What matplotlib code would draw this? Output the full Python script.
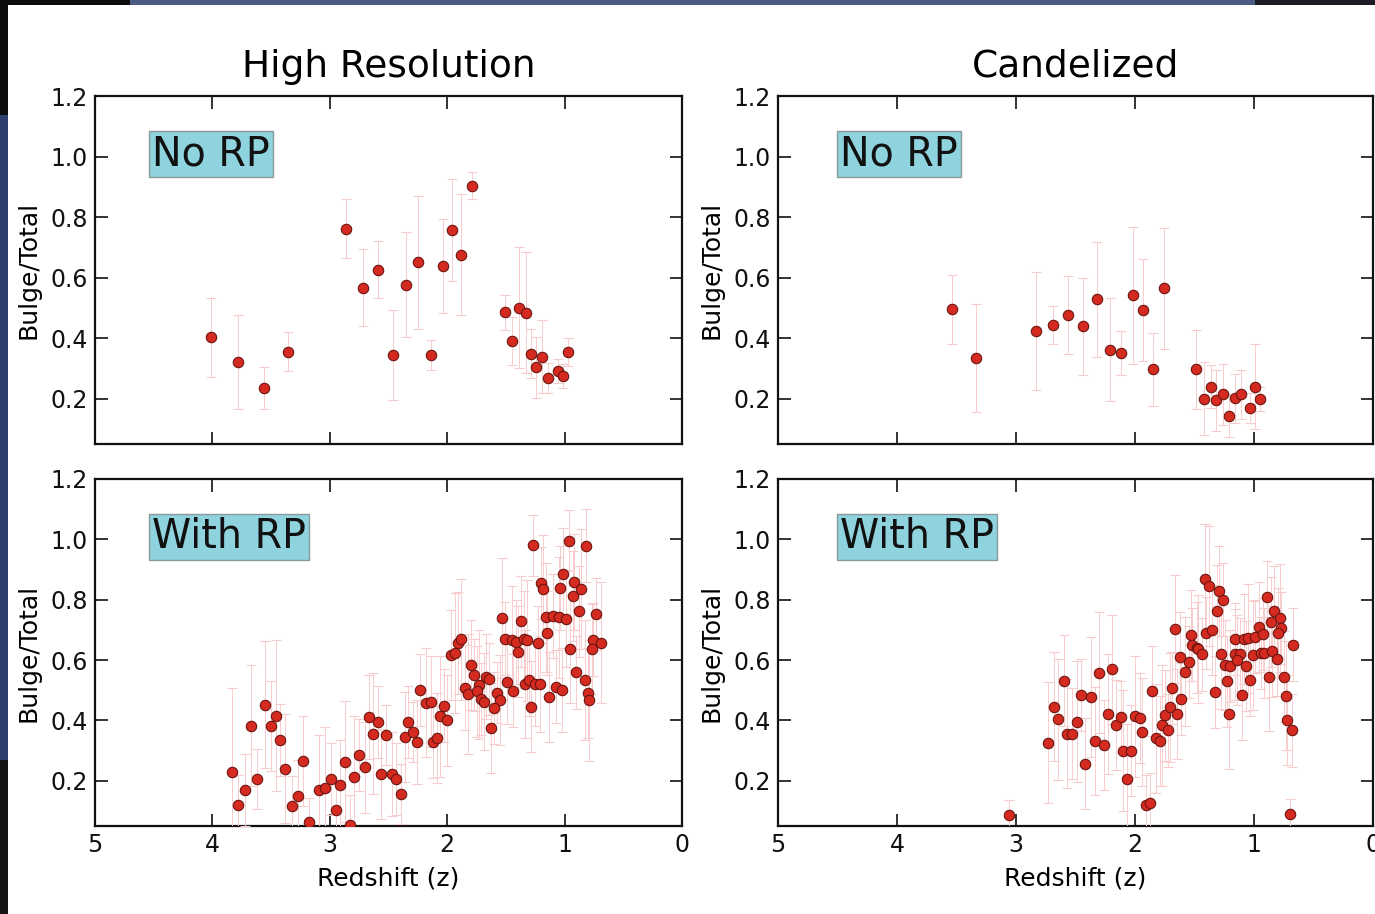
import numpy as np
import matplotlib
matplotlib.use("Agg")
import matplotlib.pyplot as plt
from matplotlib.patches import Rectangle

# High resolution, no RP
hr_norp_z = [4.01, 3.78, 3.56, 3.36, 2.86, 2.72, 2.59, 2.46, 2.35, 2.25, 2.14, 2.04, 1.96,
             1.88, 1.79, 1.51, 1.45, 1.39, 1.33, 1.29, 1.24, 1.19, 1.14, 1.06, 1.01, 0.97]
hr_norp_bt = [0.402, 0.32, 0.236, 0.355, 0.762, 0.566, 0.626, 0.345, 0.576, 0.65, 0.345, 0.638, 0.757,
              0.676, 0.904, 0.486, 0.39, 0.501, 0.484, 0.349, 0.303, 0.339, 0.268, 0.292, 0.274, 0.353]
hr_norp_err = [0.13, 0.155, 0.07, 0.065, 0.097, 0.127, 0.094, 0.148, 0.173, 0.22, 0.05, 0.155, 0.17,
               0.2, 0.045, 0.058, 0.08, 0.2, 0.2, 0.08, 0.1, 0.12, 0.05, 0.04, 0.04, 0.046]

# Candelized, no RP
ca_norp_z = [3.535, 3.34, 2.83, 2.69, 2.56, 2.44, 2.32, 2.21, 2.12, 2.02, 1.93, 1.85, 1.76,
             1.49, 1.42, 1.36, 1.32, 1.26, 1.21, 1.16, 1.11, 1.03, 0.99, 0.95]
ca_norp_bt = [0.496, 0.333, 0.425, 0.442, 0.476, 0.439, 0.529, 0.362, 0.352, 0.541, 0.493, 0.297, 0.564,
              0.297, 0.2, 0.24, 0.194, 0.214, 0.144, 0.201, 0.214, 0.169, 0.24, 0.2]
ca_norp_err = [0.114, 0.178, 0.195, 0.063, 0.13, 0.16, 0.19, 0.17, 0.073, 0.225, 0.17, 0.12, 0.2,
               0.13, 0.12, 0.07, 0.1, 0.1, 0.07, 0.08, 0.08, 0.05, 0.14, 0.04]

# High resolution, with RP
hr_rp_z = [3.83, 3.78, 3.72, 3.67, 3.62, 3.55, 3.50, 3.46, 3.42, 3.38, 3.32, 3.27, 3.23, 3.18,
           3.09, 3.04, 2.99, 2.95, 2.91, 2.87, 2.83, 2.79, 2.75, 2.70, 2.67, 2.63, 2.59, 2.56,
           2.52, 2.47, 2.44, 2.39, 2.36, 2.33, 2.29, 2.26, 2.12, 2.09,
           2.23, 2.18, 2.14, 2.06, 2.03, 2.0,
           1.97, 1.93, 1.905, 1.88, 1.80, 1.77, 1.73, 1.85, 1.82, 1.75, 1.715, 1.69, 1.67, 1.64,
           1.58, 1.55, 1.60, 1.63,
           1.53, 1.37, 1.505, 1.45, 1.41, 1.35, 1.32, 1.23, 1.40, 1.49, 1.44, 1.34, 1.30, 1.255,
           1.21, 1.13, 1.07, 1.02, 1.29,
           1.27, 0.96, 0.815, 1.01, 1.20, 1.18, 1.04, 0.92, 0.86, 0.93, 0.88, 0.73, 1.16, 1.10,
           1.05, 0.99, 1.15, 0.76, 0.69, 0.77, 0.95, 0.90, 0.83, 0.80, 0.79]
hr_rp_bt = [0.229, 0.118, 0.17, 0.382, 0.206, 0.452, 0.382, 0.416, 0.335, 0.24, 0.115, 0.15, 0.266, 0.064,
            0.17, 0.177, 0.206, 0.103, 0.186, 0.263, 0.054, 0.214, 0.285, 0.244, 0.411, 0.356, 0.394, 0.222,
            0.352, 0.222, 0.206, 0.157, 0.345, 0.394, 0.362, 0.329, 0.329, 0.341,
            0.501, 0.459, 0.462, 0.413, 0.449, 0.40,
            0.617, 0.623, 0.656, 0.669, 0.584, 0.551, 0.518, 0.509, 0.487, 0.496, 0.471, 0.462, 0.545, 0.537,
            0.492, 0.468, 0.442, 0.374,
            0.739, 0.728, 0.671, 0.667, 0.66, 0.669, 0.665, 0.658, 0.628, 0.527, 0.499, 0.521, 0.534, 0.52,
            0.52, 0.477, 0.512, 0.501, 0.446,
            0.98, 0.996, 0.979, 0.886, 0.855, 0.835, 0.838, 0.859, 0.835, 0.812, 0.761, 0.752, 0.742, 0.746,
            0.742, 0.737, 0.69, 0.668, 0.658, 0.636, 0.636, 0.559, 0.534, 0.49, 0.467]
hr_rp_err = [0.28, 0.1, 0.12, 0.2, 0.1, 0.21, 0.15, 0.25, 0.12, 0.18, 0.1, 0.12, 0.15, 0.08,
             0.18, 0.2, 0.12, 0.1, 0.15, 0.2, 0.1, 0.2, 0.12, 0.15, 0.14, 0.2, 0.12, 0.15,
             0.1, 0.14, 0.12, 0.1, 0.15, 0.12, 0.1, 0.14, 0.12, 0.15,
             0.12, 0.18, 0.15, 0.2, 0.12, 0.15,
             0.15, 0.2, 0.17, 0.2, 0.15, 0.12, 0.18, 0.14, 0.2, 0.15, 0.12, 0.16, 0.14, 0.12,
             0.1, 0.15, 0.12, 0.15,
             0.2, 0.15, 0.12, 0.18, 0.14, 0.16, 0.2, 0.12, 0.15, 0.14, 0.12, 0.18, 0.12, 0.14,
             0.16, 0.15, 0.12, 0.14, 0.15,
             0.1, 0.1, 0.12, 0.15, 0.12, 0.18, 0.14, 0.16, 0.2, 0.15, 0.15, 0.12, 0.18, 0.14,
             0.2, 0.16, 0.14, 0.12, 0.2, 0.15, 0.18, 0.12, 0.2, 0.15, 0.2]

# Candelized, with RP
ca_rp_z = [3.06, 2.73, 2.68, 2.65, 2.60, 2.57, 2.53, 2.49, 2.45, 2.37, 2.42, 2.34, 2.30, 2.26,
           2.23, 2.19, 2.16, 2.12, 2.10, 2.03, 2.07, 2.0, 1.96, 1.94,
           1.91, 1.875, 0.70, 1.855, 1.82, 1.79, 1.77, 1.72, 1.75, 1.71, 1.69, 1.65, 1.61, 1.66,
           1.62, 1.55, 1.58, 1.53, 1.52, 1.48, 1.47, 1.44, 1.41, 1.38, 1.29, 1.26, 1.31, 1.40,
           1.35, 1.33, 1.275, 1.24, 1.20, 1.225, 1.21, 1.16, 1.12, 1.14, 1.16, 1.08, 1.05, 0.99,
           0.96, 0.925, 1.07, 1.03, 1.10, 1.01, 0.94, 0.915, 0.85, 0.81, 0.875, 0.75, 0.89, 0.83,
           0.78, 0.86, 0.77, 0.80, 0.67, 0.735, 0.72, 0.68]
ca_rp_bt = [0.086, 0.326, 0.446, 0.403, 0.532, 0.356, 0.356, 0.396, 0.485, 0.478, 0.257, 0.332, 0.558, 0.318,
            0.421, 0.569, 0.384, 0.411, 0.30, 0.30, 0.207, 0.414, 0.408, 0.362,
            0.12, 0.126, 0.091, 0.497, 0.341, 0.332, 0.384, 0.367, 0.417, 0.443, 0.507, 0.421, 0.471, 0.703,
            0.61, 0.593, 0.561, 0.682, 0.651, 0.641, 0.636, 0.619, 0.87, 0.845, 0.829, 0.80, 0.764, 0.69,
            0.70, 0.494, 0.619, 0.583, 0.58, 0.529, 0.42, 0.619, 0.619, 0.60, 0.67, 0.67, 0.672, 0.678,
            0.709, 0.687, 0.581, 0.535, 0.484, 0.616, 0.623, 0.623, 0.629, 0.602, 0.545, 0.545, 0.809, 0.761,
            0.739, 0.726, 0.707, 0.689, 0.651, 0.482, 0.401, 0.367]
ca_rp_err = [0.05, 0.2, 0.18, 0.2, 0.15, 0.18, 0.15, 0.2, 0.12, 0.2, 0.15, 0.18, 0.2, 0.15,
             0.2, 0.18, 0.15, 0.12, 0.2, 0.15, 0.18, 0.2, 0.15, 0.18,
             0.1, 0.1, 0.05, 0.15, 0.18, 0.15, 0.2, 0.12, 0.15, 0.18, 0.12, 0.15, 0.12, 0.18,
             0.15, 0.12, 0.18, 0.15, 0.12, 0.15, 0.18, 0.12, 0.18, 0.2, 0.15, 0.12, 0.15, 0.12,
             0.15, 0.12, 0.18, 0.15, 0.12, 0.15, 0.18, 0.15, 0.12, 0.15, 0.12, 0.15, 0.18, 0.12,
             0.15, 0.12, 0.15, 0.12, 0.15, 0.18, 0.12, 0.15, 0.15, 0.12, 0.18, 0.15, 0.12, 0.15,
             0.18, 0.15, 0.12, 0.15, 0.12, 0.18, 0.15, 0.12]

titles = ["High Resolution", "Candelized"]
xticks = [5, 4, 3, 2, 1, 0]
yticks = [0.2, 0.4, 0.6, 0.8, 1.0, 1.2]

W, H = 1375, 914
fig = plt.figure(figsize=(W / 100, H / 100), dpi=100, facecolor="white")


def px_axes(left, top, right, bottom):
    return fig.add_axes([left / W, 1 - bottom / H, (right - left) / W, (bottom - top) / H])


axes = [[px_axes(95, 96, 682, 444), px_axes(778, 96, 1373, 444)],
        [px_axes(95, 479, 682, 826), px_axes(778, 479, 1373, 826)]]

data = [[(hr_norp_z, hr_norp_bt, hr_norp_err), (ca_norp_z, ca_norp_bt, ca_norp_err)],
        [(hr_rp_z, hr_rp_bt, hr_rp_err), (ca_rp_z, ca_rp_bt, ca_rp_err)]]
labels = ["No RP", "With RP"]

for r in range(2):
    for c in range(2):
        ax = axes[r][c]
        z, bt, err = data[r][c]
        ax.errorbar(z, bt, yerr=err, fmt="o", ms=7.5, mfc="#d52a1f", mec="#6a1510", mew=0.8,
                    ecolor="#f7cccc", elinewidth=0.7, capsize=3.5, capthick=1.2, zorder=3)
        ax.set_xlim(5, 0)
        ax.set_ylim(0.05, 1.2)
        ax.set_xticks(xticks)
        ax.set_yticks(yticks)
        ax.set_yticklabels([f"{v:.1f}" for v in yticks])
        ax.tick_params(direction="in", length=9, width=1.2, top=True, right=True,
                       labelsize=17, pad=5, colors="#111111")
        for s in ax.spines.values():
            s.set_linewidth(1.6)
            s.set_color("#111111")
        ax.set_ylabel("Bulge/Total", fontsize=18, labelpad=7)
        if r == 0:
            ax.set_xticklabels([])
            ax.set_title(titles[c], fontsize=27, pad=14)
        else:
            ax.set_xlabel("Redshift (z)", fontsize=18, labelpad=7)
        bx = 0.097 if c == 0 else 0.104
        ax.text(bx, 0.833, labels[r], transform=ax.transAxes, ha="left", va="center",
                fontsize=28.5, color="#111111", zorder=5,
                bbox=dict(boxstyle="square,pad=0.08", fc="#8fd3de", ec="#8a9a9c", lw=1))

# slide frame around the screenshot
frame = [(0, 0, 130, 5, "#0c0c0c"), (130, 0, 1125, 5, "#4a5a82"), (1255, 0, 120, 5, "#1b1b24"),
         (0, 0, 8, 115, "#0c0c0c"), (0, 115, 8, 645, "#2b3e6c"), (0, 760, 8, 154, "#151515")]
for x0, y0, w, h, col in frame:
    fig.patches.append(Rectangle((x0 / W, 1 - (y0 + h) / H), w / W, h / H,
                                 transform=fig.transFigure, fc=col, ec="none", zorder=10))

fig.savefig("out.png", dpi=100, facecolor="white")
